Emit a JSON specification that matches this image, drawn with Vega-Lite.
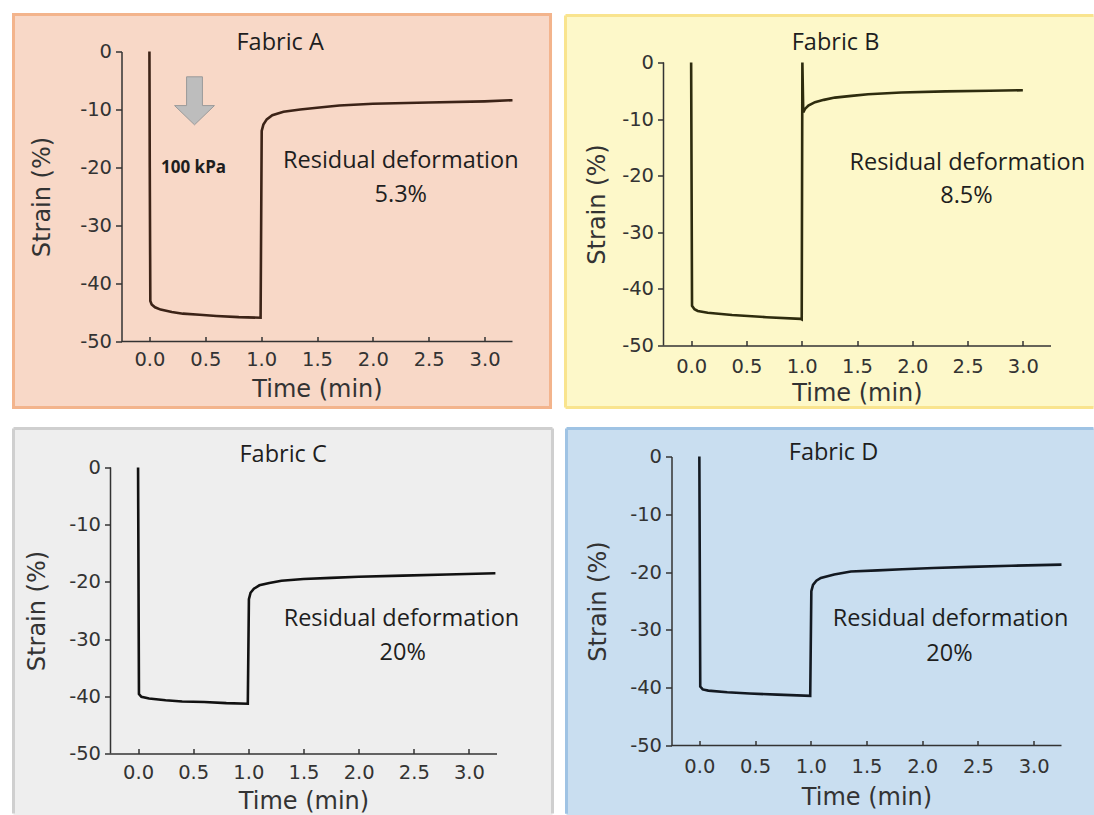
{
  "$schema": "https://vega.github.io/schema/vega-lite/v6.json",
  "background": "white",
  "padding": {"left": 11.5, "top": 12.5, "right": 0, "bottom": 0},
  "columns": 2,
  "align": "each",
  "bounds": "full",
  "spacing": {"row": 17, "column": 9},
  "config": {
    "view": {"stroke": null},
    "axis": {
      "grid": false,
      "domainColor": "#333333",
      "domainWidth": 1.5,
      "tickColor": "#333333",
      "tickWidth": 1.5,
      "labelFont": "DejaVu Sans",
      "labelFontSize": 19.5,
      "labelColor": "#333333",
      "labelOverlap": false,
      "labelFlush": false,
      "labelBound": false,
      "titleFont": "DejaVu Sans",
      "titleFontSize": 24,
      "titleFontWeight": "normal",
      "titleColor": "#333333"
    },
    "rule": {"color": "#333333", "strokeWidth": 1.5},
    "text": {"font": "Open Sans", "fontSize": 23.5, "color": "#1e1e1e", "align": "center", "baseline": "middle"}
  },
  "datasets": {
    "A": [
      {"t": 0, "s": 0}, {"t": 0.003, "s": -20}, {"t": 0.008, "s": -43.0}, {"t": 0.02, "s": -43.6},
      {"t": 0.05, "s": -44.1}, {"t": 0.1, "s": -44.5}, {"t": 0.2, "s": -44.9}, {"t": 0.3, "s": -45.2},
      {"t": 0.45, "s": -45.4}, {"t": 0.6, "s": -45.6}, {"t": 0.8, "s": -45.8}, {"t": 0.995, "s": -45.9},
      {"t": 1.0, "s": -30}, {"t": 1.005, "s": -13.7}, {"t": 1.02, "s": -12.6}, {"t": 1.05, "s": -11.7},
      {"t": 1.1, "s": -11.0}, {"t": 1.2, "s": -10.4}, {"t": 1.35, "s": -10.0}, {"t": 1.5, "s": -9.7},
      {"t": 1.7, "s": -9.3}, {"t": 2.0, "s": -9.0}, {"t": 2.5, "s": -8.8}, {"t": 3.0, "s": -8.6}, {"t": 3.25, "s": -8.4}
    ],
    "B": [
      {"t": 0, "s": 0}, {"t": 0.008, "s": -43.0}, {"t": 0.03, "s": -43.6}, {"t": 0.06, "s": -43.9},
      {"t": 0.15, "s": -44.2}, {"t": 0.37, "s": -44.6}, {"t": 0.68, "s": -45.0}, {"t": 0.99, "s": -45.3},
      {"t": 1.0, "s": -45.4}, {"t": 1.006, "s": 0}, {"t": 1.014, "s": -8.8}, {"t": 1.03, "s": -8.2},
      {"t": 1.06, "s": -7.6}, {"t": 1.12, "s": -7.0}, {"t": 1.2, "s": -6.6}, {"t": 1.3, "s": -6.2},
      {"t": 1.45, "s": -5.9}, {"t": 1.6, "s": -5.6}, {"t": 1.9, "s": -5.3}, {"t": 2.3, "s": -5.1},
      {"t": 2.7, "s": -5.0}, {"t": 3.0, "s": -4.9}
    ],
    "C": [
      {"t": 0, "s": 0}, {"t": 0.008, "s": -39.6}, {"t": 0.03, "s": -40.1}, {"t": 0.1, "s": -40.4},
      {"t": 0.25, "s": -40.7}, {"t": 0.4, "s": -40.9}, {"t": 0.6, "s": -41.0}, {"t": 0.8, "s": -41.2},
      {"t": 0.995, "s": -41.3}, {"t": 1.005, "s": -23.0}, {"t": 1.02, "s": -21.9}, {"t": 1.05, "s": -21.2},
      {"t": 1.1, "s": -20.6}, {"t": 1.19, "s": -20.2}, {"t": 1.3, "s": -19.8}, {"t": 1.5, "s": -19.5},
      {"t": 1.75, "s": -19.3}, {"t": 2.0, "s": -19.1}, {"t": 2.4, "s": -18.9}, {"t": 2.8, "s": -18.7}, {"t": 3.24, "s": -18.5}
    ],
    "D": [
      {"t": 0, "s": 0}, {"t": 0.008, "s": -39.8}, {"t": 0.03, "s": -40.3}, {"t": 0.08, "s": -40.5},
      {"t": 0.25, "s": -40.8}, {"t": 0.45, "s": -41.0}, {"t": 0.7, "s": -41.2}, {"t": 0.995, "s": -41.4},
      {"t": 1.005, "s": -23.3}, {"t": 1.02, "s": -22.2}, {"t": 1.05, "s": -21.5}, {"t": 1.09, "s": -21.0},
      {"t": 1.21, "s": -20.4}, {"t": 1.36, "s": -19.9}, {"t": 1.6, "s": -19.7}, {"t": 1.82, "s": -19.5},
      {"t": 2.1, "s": -19.3}, {"t": 2.43, "s": -19.1}, {"t": 2.8, "s": -18.9}, {"t": 3.25, "s": -18.7}
    ],
    "Atext": [
      {"t": 1.17, "s": 1.4, "label": "Fabric A"},
      {"t": 2.25, "s": -18.8, "label": "Residual deformation"},
      {"t": 2.25, "s": -24.8, "label": "5.3%"}
    ],
    "Btext": [
      {"t": 1.306, "s": 3.5, "label": "Fabric B"},
      {"t": 2.497, "s": -17.7, "label": "Residual deformation"},
      {"t": 2.49, "s": -23.6, "label": "8.5%"}
    ],
    "Ctext": [
      {"t": 1.315, "s": 2.2, "label": "Fabric C"},
      {"t": 2.388, "s": -26.5, "label": "Residual deformation"},
      {"t": 2.4, "s": -32.5, "label": "20%"}
    ],
    "Dtext": [
      {"t": 1.204, "s": 0.6, "label": "Fabric D"},
      {"t": 2.254, "s": -28.1, "label": "Residual deformation"},
      {"t": 2.245, "s": -34.2, "label": "20%"}
    ],
    "Aload": [{"t": 0.395, "s": -20.0, "label": "100 kPa"}],
    "Aarrow": [{"t": 0.4035, "s": -8.5}]
  },
  "concat": [
    {
      "width": 402, "height": 290,
      "layer": [
        {
          "data": {"values": [{}]},
          "mark": {"type": "rect", "fill": "#f8d8c7", "stroke": "#f3b48c", "strokeWidth": 3},
          "encoding": {
            "x": {"datum": -1.2168, "type": "quantitative", "scale": {"domain": [-0.3485, 3.25], "nice": false, "zero": false}},
            "x2": {"datum": 3.5903},
            "y": {"datum": 6.379, "type": "quantitative", "scale": {"domain": [-50, 0], "nice": false, "zero": false}},
            "y2": {"datum": -61.379}
          }
        },
        {
          "data": {"values": [{}]},
          "mark": {"type": "rule"},
          "encoding": {"x": {"datum": -0.25, "type": "quantitative"}, "x2": {"datum": 3.25}, "y": {"datum": -50, "type": "quantitative"}}
        },
        {
          "data": {"name": "A"},
          "mark": {"type": "line", "color": "#3c2317", "strokeWidth": 2.6},
          "encoding": {
            "x": {"field": "t", "type": "quantitative", "scale": {"domain": [-0.3485, 3.25], "nice": false, "zero": false},
              "axis": {"zindex": 2, "domain": false, "title": "Time (min)", "titleX": 206.5, "values": [0, 0.25, 0.5, 0.75, 1, 1.25, 1.5, 1.75, 2, 2.25, 2.5, 2.75, 3, 3.25],
                "labelExpr": "datum.value >= 0 && datum.value <= 3 && (datum.value * 2) % 1 == 0 ? format(datum.value, '.1f') : ''",
                "tickSize": -5, "labelPadding": 13.5, "titlePadding": 8.5}},
            "y": {"field": "s", "type": "quantitative", "scale": {"domain": [-50, 0], "nice": false, "zero": false},
              "axis": {"zindex": 2, "offset": -11, "title": "Strain (%)", "values": [-50, -45, -40, -35, -30, -25, -20, -15, -10, -5, 0],
                "labelExpr": "datum.value % 10 == 0 ? '' + datum.value : ''",
                "tickSize": 6, "labelPadding": 4, "titlePadding": 25}}
          }
        },
        {
          "data": {"name": "Aarrow"},
          "mark": {"type": "point", "shape": "M-0.33,-1L0.33,-1L0.33,0.2L0.83,0.2L0,1L-0.83,0.2L-0.33,0.2Z", "filled": true, "fill": "#bdbdbd", "stroke": "#9a9a9a", "strokeWidth": 1, "size": 2304, "opacity": 1},
          "encoding": {"x": {"field": "t", "type": "quantitative"}, "y": {"field": "s", "type": "quantitative"}}
        },
        {
          "data": {"name": "Atext"},
          "mark": {"type": "text"},
          "encoding": {"x": {"field": "t", "type": "quantitative"}, "y": {"field": "s", "type": "quantitative"}, "text": {"field": "label"}}
        },
        {
          "data": {"name": "Aload"},
          "mark": {"type": "text", "fontWeight": "bold", "fontSize": 17},
          "encoding": {"x": {"field": "t", "type": "quantitative"}, "y": {"field": "s", "type": "quantitative"}, "text": {"field": "label"}}
        }
      ]
    },
    {
      "width": 387, "height": 294,
      "layer": [
        {
          "data": {"values": [{}]},
          "mark": {"type": "rect", "fill": "#fdf8c9"},
          "encoding": {
            "x": {"datum": -1.1363, "type": "quantitative", "scale": {"domain": [-0.25, 3.25], "nice": false, "zero": false}},
            "x2": {"datum": 3.6525},
            "y": {"datum": 8.303, "type": "quantitative", "scale": {"domain": [-50, 1.943], "nice": false, "zero": false}},
            "y2": {"datum": -60.954}
          }
        },
        {
          "data": {"values": [{}]},
          "mark": {"type": "rule", "color": "#f9e48e", "strokeWidth": 3},
          "encoding": {"x": {"datum": -1.1363, "type": "quantitative"}, "x2": {"datum": 3.6389}, "y": {"datum": 8.303, "type": "quantitative"}}
        },
        {
          "data": {"values": [{}]},
          "mark": {"type": "rule", "color": "#f9e48e", "strokeWidth": 3},
          "encoding": {"x": {"datum": -1.1363, "type": "quantitative"}, "x2": {"datum": 3.6389}, "y": {"datum": -60.954, "type": "quantitative"}}
        },
        {
          "data": {"values": [{}]},
          "mark": {"type": "rule", "color": "#f9e48e", "strokeWidth": 3},
          "encoding": {"x": {"datum": -1.1363, "type": "quantitative"}, "y": {"datum": 8.303, "type": "quantitative"}, "y2": {"datum": -60.954}}
        },
        {
          "data": {"values": [{}]},
          "mark": {"type": "rule"},
          "encoding": {"x": {"datum": -0.25, "type": "quantitative"}, "y": {"datum": 0, "type": "quantitative"}, "y2": {"datum": -50}}
        },
        {
          "data": {"name": "B"},
          "mark": {"type": "line", "color": "#2e2c0e", "strokeWidth": 2.6},
          "encoding": {
            "x": {"field": "t", "type": "quantitative", "scale": {"domain": [-0.25, 3.25], "nice": false, "zero": false},
              "axis": {"zindex": 2, "title": "Time (min)", "values": [0, 0.25, 0.5, 0.75, 1, 1.25, 1.5, 1.75, 2, 2.25, 2.5, 2.75, 3, 3.25],
                "labelExpr": "datum.value >= 0 && datum.value <= 3 && (datum.value * 2) % 1 == 0 ? format(datum.value, '.1f') : ''",
                "tickSize": -5, "labelPadding": 16.5, "titlePadding": 6.3}},
            "y": {"field": "s", "type": "quantitative", "scale": {"domain": [-50, 1.943], "nice": false, "zero": false},
              "axis": {"zindex": 2, "domain": false, "title": "Strain (%)", "titleY": 152.5, "values": [-50, -45, -40, -35, -30, -25, -20, -15, -10, -5, 0],
                "labelExpr": "datum.value % 10 == 0 ? '' + datum.value : ''",
                "tickSize": 6, "labelPadding": 4, "titlePadding": 12.5}}
          }
        },
        {
          "data": {"name": "Btext"},
          "mark": {"type": "text"},
          "encoding": {"x": {"field": "t", "type": "quantitative"}, "y": {"field": "s", "type": "quantitative"}, "text": {"field": "label"}}
        }
      ]
    },
    {
      "width": 386, "height": 297,
      "layer": [
        {
          "data": {"values": [{}]},
          "mark": {"type": "rect", "fill": "#eeeeee"},
          "encoding": {
            "x": {"datum": -1.1295, "type": "quantitative", "scale": {"domain": [-0.25, 3.25], "nice": false, "zero": false}},
            "x2": {"datum": 3.7578},
            "y": {"datum": 6.818, "type": "quantitative", "scale": {"domain": [-50, 1.923], "nice": false, "zero": false}},
            "y2": {"datum": -60.927}
          }
        },
        {
          "data": {"values": [{}]},
          "mark": {"type": "rule", "color": "#cfcfcf", "strokeWidth": 3},
          "encoding": {"x": {"datum": -1.1295, "type": "quantitative"}, "x2": {"datum": 3.7578}, "y": {"datum": 6.818, "type": "quantitative"}}
        },
        {
          "data": {"values": [{}]},
          "mark": {"type": "rule", "color": "#cfcfcf", "strokeWidth": 3},
          "encoding": {"x": {"datum": -1.1295, "type": "quantitative"}, "y": {"datum": 6.818, "type": "quantitative"}, "y2": {"datum": -60.5}}
        },
        {
          "data": {"values": [{}]},
          "mark": {"type": "rule", "color": "#cfcfcf", "strokeWidth": 3},
          "encoding": {"x": {"datum": 3.7578, "type": "quantitative"}, "y": {"datum": 6.818, "type": "quantitative"}, "y2": {"datum": -60.5}}
        },
        {
          "data": {"values": [{}]},
          "mark": {"type": "rule"},
          "encoding": {"x": {"datum": -0.25, "type": "quantitative"}, "y": {"datum": 0, "type": "quantitative"}, "y2": {"datum": -50}}
        },
        {
          "data": {"name": "C"},
          "mark": {"type": "line", "color": "#111111", "strokeWidth": 2.6},
          "encoding": {
            "x": {"field": "t", "type": "quantitative", "scale": {"domain": [-0.25, 3.25], "nice": false, "zero": false},
              "axis": {"zindex": 2, "title": "Time (min)", "values": [0, 0.25, 0.5, 0.75, 1, 1.25, 1.5, 1.75, 2, 2.25, 2.5, 2.75, 3, 3.25],
                "labelExpr": "datum.value >= 0 && datum.value <= 3 && (datum.value * 2) % 1 == 0 ? format(datum.value, '.1f') : ''",
                "tickSize": -5, "labelPadding": 14.5, "titlePadding": 8}},
            "y": {"field": "s", "type": "quantitative", "scale": {"domain": [-50, 1.923], "nice": false, "zero": false},
              "axis": {"zindex": 2, "domain": false, "title": "Strain (%)", "titleY": 154, "values": [-50, -45, -40, -35, -30, -25, -20, -15, -10, -5, 0],
                "labelExpr": "datum.value % 10 == 0 ? '' + datum.value : ''",
                "tickSize": 6, "labelPadding": 4, "titlePadding": 19.5}}
          }
        },
        {
          "data": {"name": "Ctext"},
          "mark": {"type": "text"},
          "encoding": {"x": {"field": "t", "type": "quantitative"}, "y": {"field": "s", "type": "quantitative"}, "text": {"field": "label"}}
        }
      ]
    },
    {
      "width": 398, "height": 289,
      "layer": [
        {
          "data": {"values": [{}]},
          "mark": {"type": "rect", "fill": "#c9def0"},
          "encoding": {
            "x": {"datum": -1.1923, "type": "quantitative", "scale": {"domain": [-0.3218, 3.25], "nice": false, "zero": false}},
            "x2": {"datum": 3.5505},
            "y": {"datum": 4.844, "type": "quantitative", "scale": {"domain": [-50, 0], "nice": false, "zero": false}},
            "y2": {"datum": -62.197}
          }
        },
        {
          "data": {"values": [{}]},
          "mark": {"type": "rule", "color": "#9fc3e4", "strokeWidth": 3},
          "encoding": {"x": {"datum": -1.1923, "type": "quantitative"}, "x2": {"datum": 3.5371}, "y": {"datum": 4.844, "type": "quantitative"}}
        },
        {
          "data": {"values": [{}]},
          "mark": {"type": "rule", "color": "#9fc3e4", "strokeWidth": 3},
          "encoding": {"x": {"datum": -1.1923, "type": "quantitative"}, "y": {"datum": 4.844, "type": "quantitative"}, "y2": {"datum": -61.8}}
        },
        {
          "data": {"values": [{}]},
          "mark": {"type": "rule"},
          "encoding": {"x": {"datum": -0.25, "type": "quantitative"}, "x2": {"datum": 3.25}, "y": {"datum": -50, "type": "quantitative"}}
        },
        {
          "data": {"name": "D"},
          "mark": {"type": "line", "color": "#131921", "strokeWidth": 2.6},
          "encoding": {
            "x": {"field": "t", "type": "quantitative", "scale": {"domain": [-0.3218, 3.25], "nice": false, "zero": false},
              "axis": {"zindex": 2, "domain": false, "title": "Time (min)", "titleX": 203, "values": [0, 0.25, 0.5, 0.75, 1, 1.25, 1.5, 1.75, 2, 2.25, 2.5, 2.75, 3, 3.25],
                "labelExpr": "datum.value >= 0 && datum.value <= 3 && (datum.value * 2) % 1 == 0 ? format(datum.value, '.1f') : ''",
                "tickSize": -5, "labelPadding": 16.5, "titlePadding": 10}},
            "y": {"field": "s", "type": "quantitative", "scale": {"domain": [-50, 0], "nice": false, "zero": false},
              "axis": {"zindex": 2, "offset": -8, "title": "Strain (%)", "values": [-50, -45, -40, -35, -30, -25, -20, -15, -10, -5, 0],
                "labelExpr": "datum.value % 10 == 0 ? '' + datum.value : ''",
                "tickSize": 6, "labelPadding": 4, "titlePadding": 18.7}}
          }
        },
        {
          "data": {"name": "Dtext"},
          "mark": {"type": "text"},
          "encoding": {"x": {"field": "t", "type": "quantitative"}, "y": {"field": "s", "type": "quantitative"}, "text": {"field": "label"}}
        }
      ]
    }
  ]
}
